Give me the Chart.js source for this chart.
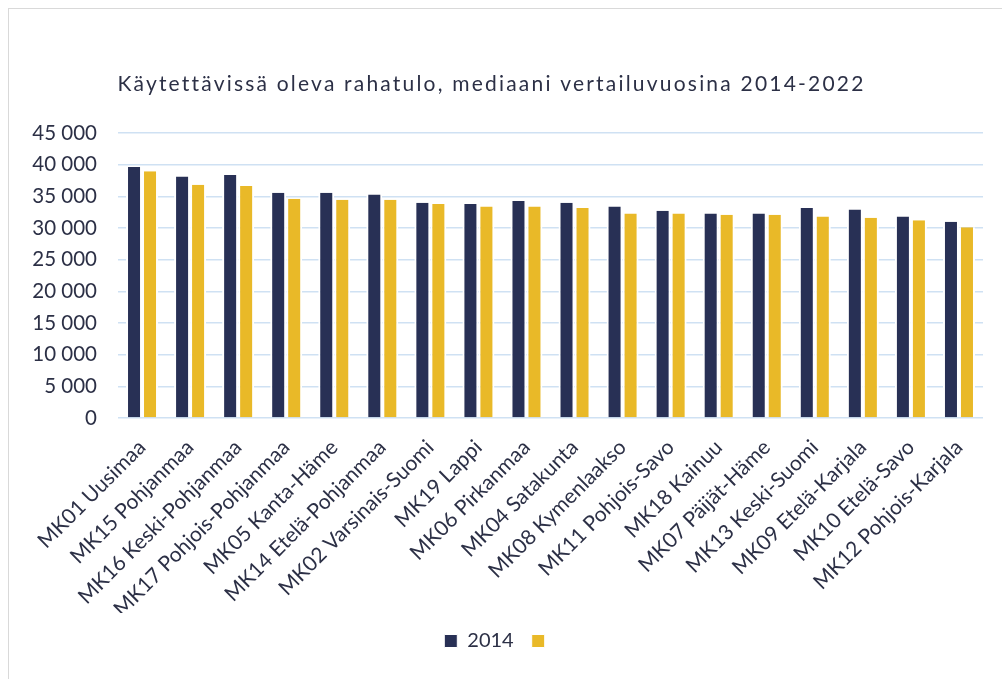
<!DOCTYPE html>
<html>
<head>
<meta charset="utf-8">
<script src="https://cdn.jsdelivr.net/npm/chart.js@4.4.1/dist/chart.umd.min.js"></script>
<style>
  html, body { margin: 0; padding: 0; background: #ffffff; }
  #wrap { position: relative; width: 1002px; height: 679px; overflow: hidden; }
  #frame { position: absolute; left: 8px; top: 8px; width: 1100px; height: 700px; border: 1px solid #d9d9d9; box-sizing: border-box; }
  canvas { position: absolute; left: 0; top: 0; }
</style>
</head>
<body>
<div id="wrap">
  <div id="frame"></div>
  <canvas id="c" width="1002" height="679"></canvas>
</div>
<script>
const categories = [
  "MK01 Uusimaa", "MK15 Pohjanmaa", "MK16 Keski-Pohjanmaa", "MK17 Pohjois-Pohjanmaa",
  "MK05 Kanta-Häme", "MK14 Etelä-Pohjanmaa", "MK02 Varsinais-Suomi", "MK19 Lappi",
  "MK06 Pirkanmaa", "MK04 Satakunta", "MK08 Kymenlaakso", "MK11 Pohjois-Savo",
  "MK18 Kainuu", "MK07 Päijät-Häme", "MK13 Keski-Suomi", "MK09 Etelä-Karjala",
  "MK10 Etelä-Savo", "MK12 Pohjois-Karjala"
];
const series2014 = [39650, 38150, 38400, 35600, 35600, 35300, 34000, 33800, 34300, 34000, 33400, 32750, 32300, 32300, 33200, 32950, 31850, 31000];
const series2022 = [39000, 36850, 36650, 34650, 34500, 34500, 33800, 33400, 33400, 33200, 32300, 32300, 32100, 32100, 31850, 31650, 31250, 30150];
const seriesLabels = ["2014", ""];
const titleText = "Käytettävissä oleva rahatulo, mediaani vertailuvuosina 2014-2022";
const yTicks = { min: 0, max: 45000, step: 5000 };

const FONT = "Lato, 'Open Sans', sans-serif";
const TEXT = "#2c3046";

const barBorder = { top: 0, bottom: 0, left: 2, right: 2 };

const titleSpacing = {
  id: 'titleSpacing',
  afterLayout(chart) {
    const lg = chart.legend;
    if (lg) { lg.left += 8; lg.right += 8; }
  },
  beforeDraw(chart) {
    const tb = chart.titleBlock;
    if (tb && !tb._spaced) {
      const orig = tb.draw.bind(tb);
      tb.draw = function () {
        const ctx = this.ctx;
        ctx.save();
        try { ctx.letterSpacing = '2.2px'; } catch (e) {}
        orig();
        try { ctx.letterSpacing = '0px'; } catch (e) {}
        ctx.restore();
      };
      tb._spaced = true;
    }
  }
};

new Chart(document.getElementById('c'), {
  type: 'bar',
  data: {
    labels: categories,
    datasets: [
      { label: seriesLabels[0], data: series2014, backgroundColor: '#283055', borderColor: '#ffffff', borderWidth: barBorder, borderSkipped: false },
      { label: seriesLabels[1], data: series2022, backgroundColor: '#e9b928', borderColor: '#ffffff', borderWidth: barBorder, borderSkipped: false }
    ]
  },
  plugins: [titleSpacing],
  options: {
    responsive: false,
    animation: false,
    devicePixelRatio: 1,
    layout: { padding: { left: 0, right: 19, top: 72, bottom: 18 } },
    datasets: { bar: { categoryPercentage: 0.666, barPercentage: 1.0 } },
    plugins: {
      title: {
        display: true,
        text: titleText,
        color: TEXT,
        font: { family: FONT, size: 21, weight: 'normal' },
        padding: { top: 0, bottom: 36 }
      },
      legend: {
        display: true,
        position: 'bottom',
        labels: {
          color: TEXT,
          font: { family: FONT, size: 20 },
          boxWidth: 13,
          boxHeight: 13,
          padding: 18
        }
      },
      tooltip: { enabled: false }
    },
    scales: {
      x: {
        grid: { display: false, drawTicks: false },
        border: { display: false },
        ticks: {
          color: TEXT,
          font: { family: FONT, size: 21 },
          minRotation: 45,
          maxRotation: 45,
          padding: 17,
          autoSkip: false
        },
        afterFit: (s) => { s.height = 195; }
      },
      y: {
        min: yTicks.min,
        max: yTicks.max,
        grid: { color: '#cfe1f3', lineWidth: 1.5, drawTicks: false },
        border: { display: false },
        ticks: {
          stepSize: yTicks.step,
          color: TEXT,
          font: { family: FONT, size: 20.5 },
          padding: 21,
          callback: (v) => String(v).replace(/\B(?=(\d{3})+(?!\d))/g, ' ')
        },
        afterFit: (s) => { s.width = 118; }
      }
    }
  }
});
</script>
</body>
</html>
